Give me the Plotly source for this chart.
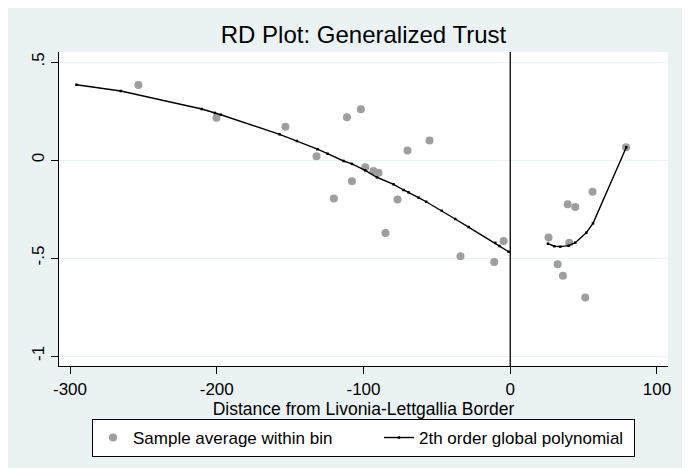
import plotly.graph_objects as go

# bin averages
bin_x = [-253.4, -200.2, -153.2, -132.0, -120.2, -111.3, -107.9, -101.8, -98.8,
         -93.2, -89.8, -85.0, -76.8, -70.0, -55.0, -33.9, -10.9, -4.5,
         26.1, 32.3, 35.9, 39.1, 40.2, 44.3, 51.1, 56.1, 78.9]
bin_y = [0.383, 0.216, 0.170, 0.019, -0.197, 0.218, -0.109, 0.259, -0.037,
         -0.056, -0.065, -0.372, -0.201, 0.049, 0.100, -0.491, -0.520, -0.413,
         -0.395, -0.532, -0.590, -0.226, -0.422, -0.240, -0.702, -0.162, 0.065]

# fitted polynomial, left of the border
fit_left_x = [-295.6, -265.4, -210.2, -201.3, -197.2, -157.2, -145.4, -131.4, -124.5,
              -113.6, -107.9, -98.8, -90.9, -79.5, -72.7, -69.3, -62.5, -57.3,
              -46.6, -37.5, -28.4, -10.2, -7.3, -1.1]
fit_left_y = [0.384, 0.352, 0.260, 0.240, 0.231, 0.131, 0.097, 0.055, 0.032,
              -0.005, -0.020, -0.053, -0.088, -0.124, -0.153, -0.165, -0.192, -0.213,
              -0.259, -0.301, -0.342, -0.423, -0.439, -0.468]

# fitted polynomial, right of the border
fit_right_x = [25.7, 30.0, 34.1, 39.8, 44.3, 51.8, 56.4, 79.1]
fit_right_y = [-0.427, -0.440, -0.442, -0.437, -0.422, -0.371, -0.323, 0.065]

y_ticks = [-1, -0.5, 0, 0.5]
y_labels = ["-1", "-.5", "0", ".5"]
x_ticks = [-300, -200, -100, 0, 100]
x_labels = ["-300", "-200", "-100", "0", "100"]

font = "Liberation Sans, Arial, sans-serif"
bg = "#EAF2F3"

fig = go.Figure()
fig.add_trace(go.Scatter(x=bin_x, y=bin_y, mode="markers", name="Sample average within bin",
                         marker=dict(color="#9E9E9E", size=8), legendwidth=241))
fig.add_trace(go.Scatter(x=fit_left_x, y=fit_left_y, mode="lines+markers",
                         name="2th order global polynomial",
                         line=dict(color="black", width=1.4),
                         marker=dict(color="black", size=2.5, symbol="square"),
                         legendwidth=210))
fig.add_trace(go.Scatter(x=fit_right_x, y=fit_right_y, mode="lines+markers",
                         showlegend=False,
                         line=dict(color="black", width=1.4),
                         marker=dict(color="black", size=2.5, symbol="square")))

fig.add_vline(x=0, line_color="black", line_width=1.3)

fig.update_layout(
    width=678, height=460,
    margin=dict(l=51, r=18, t=44, b=101),
    paper_bgcolor=bg, plot_bgcolor="white",
    font=dict(family=font, size=17, color="black"),
    title=dict(text="RD Plot: Generalized Trust", x=0.5, xref="paper",
               y=1 - 27 / 460, yref="container", yanchor="middle",
               font=dict(size=24)),
    showlegend=True,
    legend=dict(orientation="h", x=0.5, xanchor="center", y=-0.165, yanchor="top",
                bgcolor="white", bordercolor="black", borderwidth=1,
                font=dict(size=17)),
)
fig.update_xaxes(range=[-307.5, 107.5], tickvals=x_ticks, ticktext=x_labels,
                 showgrid=False, zeroline=False,
                 showline=True, linecolor="black", linewidth=1.3,
                 ticks="outside", ticklen=7, tickcolor="black", tickfont=dict(size=17),
                 title=dict(text="Distance from Livonia-Lettgallia Border", standoff=0,
                            font=dict(size=17.5)))
fig.update_yaxes(range=[-1.051, 0.551], tickvals=y_ticks, ticktext=y_labels,
                 tickangle=-90, showgrid=True, gridcolor=bg, gridwidth=1.3, zeroline=False,
                 showline=True, linecolor="black", linewidth=1.3,
                 ticks="outside", ticklen=7, tickcolor="black", tickfont=dict(size=17))

fig.write_html("out.html")
